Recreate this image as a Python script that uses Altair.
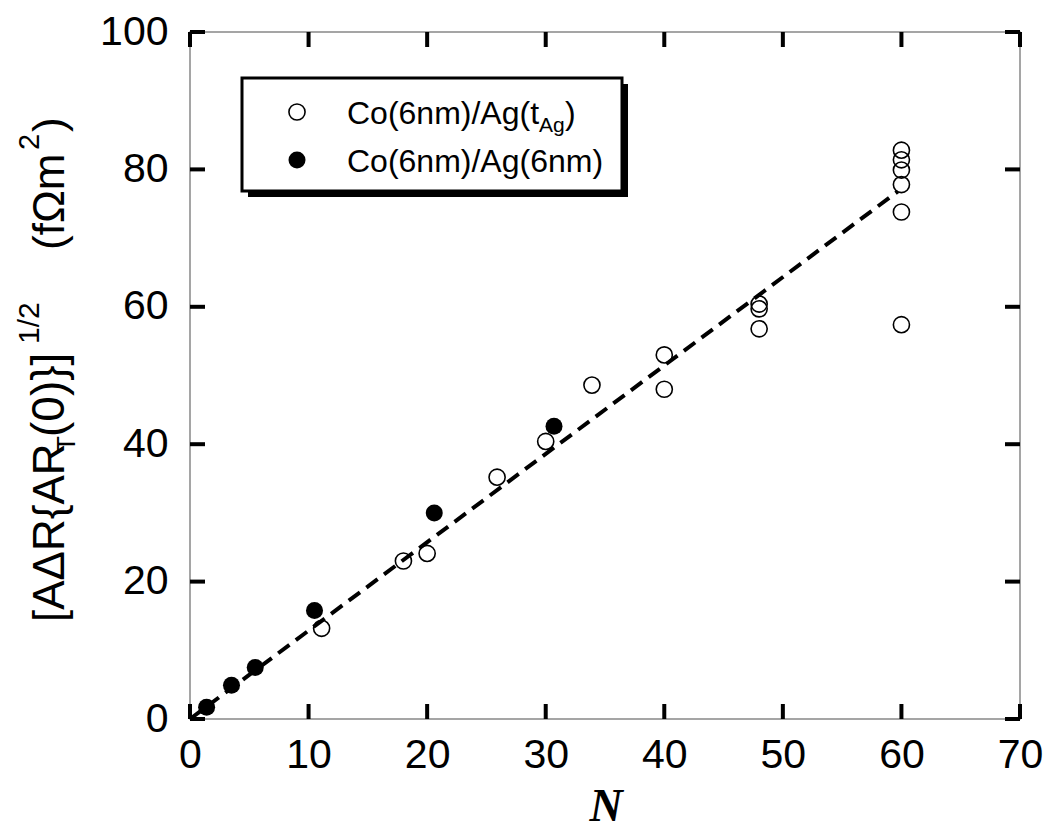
import altair as alt
import pandas as pd

# ---- data ----
n_open = [11.1, 18.0, 20.0, 25.9, 30.0, 33.9, 40.0, 40.0, 48.0, 48.0, 48.0,
          60.0, 60.0, 60.0, 60.0, 60.0, 60.0]
y_open = [13.2, 23.0, 24.1, 35.2, 40.4, 48.6, 53.0, 48.0, 60.4, 59.7, 56.8,
          82.8, 81.4, 79.9, 77.8, 73.8, 57.4]
n_fill = [1.4, 3.5, 5.5, 10.5, 20.6, 30.7]
y_fill = [1.7, 4.9, 7.5, 15.8, 30.0, 42.6]
fit_n = [0.0, 59.7]
fit_y = [0.0, 76.8]
x_ticks = [0, 10, 20, 30, 40, 50, 60, 70]
y_ticks = [0, 20, 40, 60, 80, 100]
legend_open = "Co(6nm)/Ag(t"
legend_open_sub = "Ag"
legend_fill = "Co(6nm)/Ag(6nm)"

W, H = 830, 687
FONT = "Liberation Sans"

xs = alt.Scale(domain=[0, 70], nice=False, zero=False)
ys = alt.Scale(domain=[0, 100], nice=False, zero=False)

df_open = pd.DataFrame({"N": n_open, "Y": y_open})
df_fill = pd.DataFrame({"N": n_fill, "Y": y_fill})
df_fit = pd.DataFrame({"N": fit_n, "Y": fit_y})
df_xt = pd.DataFrame({"v": x_ticks})
df_yt = pd.DataFrame({"v": y_ticks})

fit = alt.Chart(df_fit).mark_line(color="black", strokeWidth=4, strokeDash=[14, 8]).encode(
    x=alt.X("N:Q", scale=xs, axis=alt.Axis(values=x_ticks, labelPadding=16, format="d")),
    y=alt.Y("Y:Q", scale=ys, axis=alt.Axis(values=y_ticks, labelPadding=22, format="d")),
)
opn = alt.Chart(df_open).mark_point(shape="circle", filled=False, stroke="black",
                                    strokeWidth=1.6, size=260, opacity=1).encode(
    x=alt.X("N:Q", scale=xs), y=alt.Y("Y:Q", scale=ys))
fil = alt.Chart(df_fill).mark_point(shape="circle", filled=True, color="black",
                                    size=290, opacity=1).encode(
    x=alt.X("N:Q", scale=xs), y=alt.Y("Y:Q", scale=ys))

TL, TW = 15, 4
tick_b = alt.Chart(df_xt).mark_rule(color="black", strokeWidth=TW).encode(
    x=alt.X("v:Q", scale=xs), y=alt.value(H), y2=alt.value(H - TL))
tick_t = alt.Chart(df_xt).mark_rule(color="black", strokeWidth=TW).encode(
    x=alt.X("v:Q", scale=xs), y=alt.value(0), y2=alt.value(TL))
tick_l = alt.Chart(df_yt).mark_rule(color="black", strokeWidth=TW).encode(
    y=alt.Y("v:Q", scale=ys), x=alt.value(0), x2=alt.value(TL))
tick_r = alt.Chart(df_yt).mark_rule(color="black", strokeWidth=TW).encode(
    y=alt.Y("v:Q", scale=ys), x=alt.value(W), x2=alt.value(W - TL))

OX, OY = 190, 32  # absolute position of plot origin


def txt(s, x, y, size, angle=0, align="left", baseline="alphabetic", font=FONT,
        style="normal", weight="normal"):
    return alt.Chart(pd.DataFrame({"t": [s]})).mark_text(
        font=font, fontSize=size, angle=angle, align=align, baseline=baseline,
        color="black", fontStyle=style, fontWeight=weight,
    ).encode(text="t:N", x=alt.value(x - OX), y=alt.value(y - OY))


def box(x1, y1, x2, y2, **kw):
    return alt.Chart(pd.DataFrame({"a": [0]})).mark_rect(**kw).encode(
        x=alt.value(x1 - OX), x2=alt.value(x2 - OX),
        y=alt.value(y1 - OY), y2=alt.value(y2 - OY))


def dot(x, y, filled):
    if filled:
        m = alt.Chart(pd.DataFrame({"a": [0]})).mark_point(
            shape="circle", filled=True, color="black", size=290, opacity=1)
    else:
        m = alt.Chart(pd.DataFrame({"a": [0]})).mark_point(
            shape="circle", filled=False, stroke="black", strokeWidth=1.6, size=260, opacity=1)
    return m.encode(x=alt.value(x - OX), y=alt.value(y - OY))


# legend
leg = [
    box(248, 84, 628, 197, color="black"),
    box(242, 78, 622, 191, fill="white", stroke="black", strokeWidth=3),
    dot(297, 112, False),
    dot(297, 160, True),
    txt(legend_open, 347, 124, 32),
    txt(legend_open_sub, 539, 132, 21),
    txt(")", 565, 124, 32),
    txt(legend_fill, 347, 172, 32),
]

# y-axis title pieces (rotated)
BX = 64
ytitle = [
    txt("[A\u0394R{AR", BX, 622, 44, angle=270),
    txt("T", BX + 11, 452, 26, angle=270),
    txt("(0)}]", BX, 437, 46, angle=270),
    txt("1/2", BX - 25, 344, 30, angle=270),
    txt("(f\u03a9m", BX, 250, 44, angle=270),
    txt("2", BX - 25, 150, 29, angle=270),
    txt(")", BX, 132, 44, angle=270),
]

xtitle = txt("N", 606, 821, 46, align="center", font="Liberation Serif",
             style="italic", weight="bold")

chart = alt.layer(
    fit, opn, fil, tick_b, tick_t, tick_l, tick_r, *leg, *ytitle, xtitle
).properties(
    width=W, height=H,
    autosize=alt.AutoSizeParams(type="none"),
    padding={"left": 182, "top": 24, "right": 23, "bottom": 112},
    background="white",
).configure_view(
    stroke="#888888", strokeWidth=1.5
).configure_axis(
    labelFont=FONT, labelFontSize=41, labelColor="black", domain=False,
    ticks=False, tickSize=0, grid=False, titleFontSize=1, titleOpacity=0,
    labelFlush=False, labelOverlap=False,
)

chart.save("out.html", embed_options={"renderer": "svg", "actions": False})
